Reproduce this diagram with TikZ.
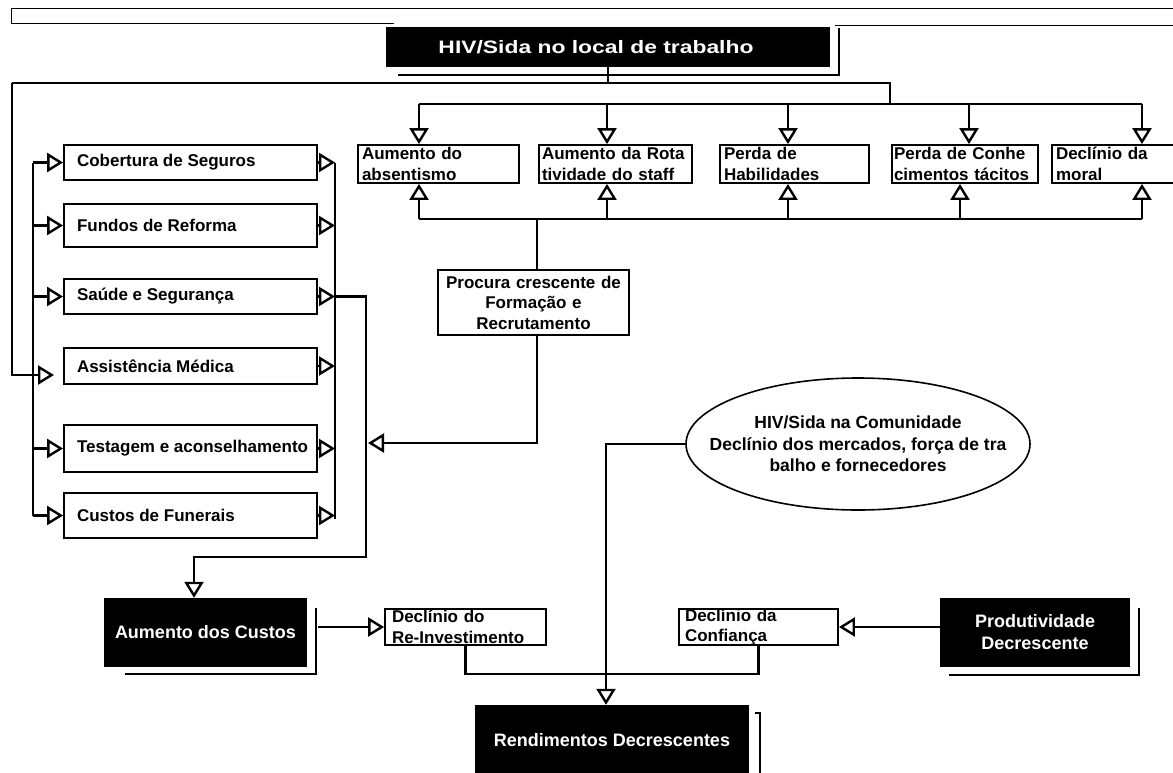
\documentclass[tikz,border=0pt]{standalone}
\usepackage{fontspec}
\setmainfont{Liberation Sans}
\usetikzlibrary{arrows.meta,shapes.geometric}
\begin{document}
\begin{tikzpicture}[x=1pt,y=-1pt,
  ln/.style={line width=2.4pt},
  arr/.style={line width=2.4pt,-{Triangle[open,length=16pt,width=19pt]}},
  wbox/.style={draw,line width=1.8pt,fill=white,inner sep=0pt,font=\fontsize{17}{20.5}\selectfont\bfseries},
  bbox/.style={fill=black,text=white,inner sep=0pt,align=center,font=\fontsize{18}{22}\selectfont\bfseries},
  shadowln/.style={line width=1.3pt},
  framel/.style={line width=1pt}]
\useasboundingbox (0,0) rectangle (1173,772);
% frame at the top
\draw[framel] (11,23) -- (11,8) -- (1173,8);
\draw[framel] (11,23) -- (394,23);
\draw[framel] (835,25) -- (1173,25);
% black boxes
\node[bbox,minimum width=444pt,minimum height=40pt] (hiv) at (608,47) {\scalebox{1.27}[1]{HIV/Sida no local de trabalho}\hspace*{24pt}};
\draw[shadowln] (398,75) -- (839,75) -- (839,28);
\node[bbox,minimum width=203pt,minimum height=69pt] (aum) at (205.5,632.5) {Aumento dos Custos};
\draw[shadowln] (125,674) -- (316,674) -- (316,608);
\node[bbox,minimum width=190pt,minimum height=69pt] (prod) at (1035,632.5) {Produtividade\\Decrescente};
\draw[shadowln] (949,675) -- (1139,675) -- (1139,608);
\node[bbox,minimum width=274pt,minimum height=70pt] (rend) at (612,740) {Rendimentos Decrescentes};
\draw[shadowln] (755,713) -- (760,713) -- (760,775);
% top row of boxes
\node[wbox,minimum width=161pt,minimum height=38pt,text width=153pt,align=left] (b1) at (438.5,164) {Aumento do\\absentismo};
\node[wbox,minimum width=153pt,minimum height=38pt,text width=147pt,align=left] (b2) at (615.5,164) {Aumento da Rota\\tividade do staff};
\node[wbox,minimum width=149pt,minimum height=38pt,text width=141pt,align=left] (b3) at (794.5,164) {Perda de\\Habilidades};
\node[wbox,minimum width=146pt,minimum height=38pt,text width=142pt,align=left] (b4) at (965,164) {Perda de Conhe\\cimentos tácitos};
\node[wbox,minimum width=138pt,minimum height=38pt,text width=130pt,align=left] (b5) at (1121,164) {Declínio da\\moral};
% left column of boxes
\node[wbox,minimum width=253pt,minimum height=35pt] (cob) at (190.5,162.5) {\makebox[227pt][l]{Cobertura de Seguros}};
\node[wbox,minimum width=253pt,minimum height=43pt] (fun) at (190.5,225.5) {\makebox[227pt][l]{Fundos de Reforma}};
\node[wbox,minimum width=253pt,minimum height=35pt] (sau) at (190.5,296.5) {\makebox[227pt][l]{Saúde e Segurança}};
\node[wbox,minimum width=253pt,minimum height=36pt] (ass) at (190.5,366) {\makebox[227pt][l]{Assistência Médica}};
\node[wbox,minimum width=253pt,minimum height=47pt] (tes) at (190.5,448.5) {\makebox[227pt][l]{Testagem e aconselhamento}};
\node[wbox,minimum width=253pt,minimum height=45pt] (cus) at (190.5,515.5) {\makebox[227pt][l]{Custos de Funerais}};
% middle boxes
\node[wbox,minimum width=191pt,minimum height=65pt,text width=189pt,align=center] (proc) at (533.5,302.5) {Procura crescente de\\Formação e\\Recrutamento};
\node[wbox,minimum width=161pt,minimum height=36pt,text width=147pt,align=left] (reinv) at (465.5,627) {Declínio do\\Re-Investimento};
\node[wbox,minimum width=159pt,minimum height=36pt,text width=147pt,align=left] (conf) at (758.5,627) {Declínio da\\Confiança};
\node[wbox,ellipse,line width=1.6pt,minimum width=344pt,minimum height=132pt,align=center,font=\fontsize{17.5}{21.5}\selectfont\bfseries] (ell) at (858,444) {\makebox[0pt]{HIV/Sida na Comunidade}\\\makebox[0pt]{Declínio dos mercados, força de tra}\\\makebox[0pt]{balho e fornecedores}};
% coordinates
\coordinate (busA) at (12,83);
\coordinate (busB) at (890,83);
\coordinate (busC) at (890,104);
\coordinate (d1) at (419,104);
\coordinate (d2) at (607,104);
\coordinate (d3) at (788,104);
\coordinate (d4) at (969,104);
\coordinate (d5) at (1142,104);
\coordinate (u1) at (419,219);
\coordinate (u2) at (607,219);
\coordinate (u3) at (788,219);
\coordinate (u4) at (960,219);
\coordinate (u5) at (1142,219);
\coordinate (pu) at (537,219);
\coordinate (pd) at (537,443);
\coordinate (pl) at (368,443);
\coordinate (lvx) at (33,0);
\coordinate (rvx) at (335,0);
\coordinate (assIn) at (54,375);
\coordinate (s1) at (366,0);
\coordinate (s2) at (366,557);
\coordinate (s3) at (194,557);
\coordinate (a1) at (318,0);
\coordinate (bb) at (0,674);
\coordinate (ev) at (606,0);
% connectors from the top box
\draw[ln] (hiv.south) -- (hiv.south |- busA);
\draw[ln] (busA) -- (busB) -- (busC);
\draw[ln] (d1) -- (d5);
\foreach \i in {1,...,5}{\draw[arr] (d\i) -- (d\i |- b\i.north);}
\draw[ln] (u1) -- (u5);
\foreach \i in {1,...,5}{\draw[arr] (u\i) -- (u\i |- b\i.south);}
\draw[ln] (pu |- proc.north) -- (pu);
\draw[arr] (pu |- proc.south) -- (pd) -- (pl);
% left side
\draw[arr] (busA) -- (busA |- assIn) -- (assIn);
\draw[ln] (cob.west -| lvx) -- (cus.west -| lvx);
\foreach \b in {cob,fun,sau,tes,cus}{\draw[arr] (\b.west -| lvx) -- (\b.west);}
\draw[ln] (cob.east -| rvx) -- ([yshift=-3pt]cus.east -| rvx);
\foreach \b in {cob,fun,sau,ass,tes,cus}{\draw[arr] (\b.east) -- (\b.east -| rvx);}
\draw[arr] (sau.east -| rvx) -- (sau.east -| s1) -- (s2) -- (s3) -- (s3 |- aum.north);
% bottom
\draw[arr] (reinv.west -| a1) -- (reinv.west);
\draw[ln] (reinv.south) -- (reinv.south |- bb) -- (conf.south |- bb) -- (conf.south);
\draw[arr] (ell.west) -- (ell.west -| ev) -- (ev |- rend.north);
\draw[arr] (prod.west |- conf.east) -- (conf.east);
\end{tikzpicture}
\end{document}
